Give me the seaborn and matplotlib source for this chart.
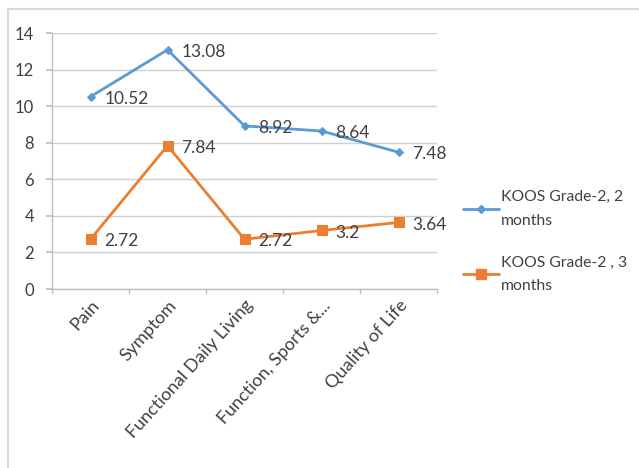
import matplotlib
matplotlib.use("Agg")
import matplotlib.pyplot as plt
from matplotlib.lines import Line2D
import seaborn as sns
import pandas as pd

categories = ["Pain", "Symptom", "Functional Daily Living", "Function, Sports &...", "Quality of Life"]
grade2_2m = [10.52, 13.08, 8.92, 8.64, 7.48]
grade2_3m = [2.72, 7.84, 2.72, 3.2, 3.64]
series_names = ["KOOS Grade-2, 2\nmonths", "KOOS Grade-2 , 3\nmonths"]
yticks = [0, 2, 4, 6, 8, 10, 12, 14]

colors = ["#5B9BD5", "#ED7D31"]
markers = ["D", "s"]
msizes = [4.5, 7]

sns.set_theme(style="white")
plt.rcParams["font.family"] = ["Lato", "DejaVu Sans"]

df = pd.DataFrame({
    "category": categories * 2,
    "pos": list(range(len(categories))) * 2,
    "value": grade2_2m + grade2_3m,
    "series": [series_names[0]] * 5 + [series_names[1]] * 5,
})

fig = plt.figure(figsize=(6.39, 4.68), dpi=100)
W, H = 639, 468
ax = fig.add_axes([52 / W, 1 - 289 / H, (437 - 52) / W, (289 - 33) / H])

for i, name in enumerate(series_names):
    sub = df[df["series"] == name]
    sns.lineplot(data=sub, x="pos", y="value", ax=ax, color=colors[i], marker=markers[i],
                 markersize=msizes[i], markeredgecolor=colors[i], linewidth=2, sort=False,
                 legend=False, zorder=3)
    for x, v in zip(sub["pos"], sub["value"]):
        ax.annotate(f"{v:g}", (x, v), xytext=(10, -1.5), textcoords="offset points",
                    ha="left", va="center", fontsize=12.5, color="#404040", zorder=4)

ax.set_xlim(-0.5, len(categories) - 0.5)
ax.set_ylim(0, 14)
ax.set_yticks(yticks)
ax.set_yticklabels([str(t) for t in yticks], fontsize=12, color="#404040")
ax.yaxis.grid(True, color="#d0d0d0", linewidth=1)
ax.xaxis.grid(False)
ax.set_xlabel("")
ax.set_ylabel("")

ax.set_xticks(range(len(categories)))
ax.set_xticklabels(categories, rotation=48, ha="right", rotation_mode="anchor",
                   fontsize=13, color="#404040")
ax.tick_params(axis="x", length=0, pad=6)
# boundary ticks between categories
for b in [i - 0.5 for i in range(len(categories) + 1)]:
    ax.plot([b, b], [0, -0.2], color="#bfbfbf", lw=1, clip_on=False, zorder=2)
ax.tick_params(axis="y", left=True, length=4, color="#bfbfbf", pad=9)

for side in ["top", "right"]:
    ax.spines[side].set_visible(False)
for side in ["left", "bottom"]:
    ax.spines[side].set_color("#bfbfbf")
    ax.spines[side].set_linewidth(1)

handles = [Line2D([0], [0], color=colors[i], marker=markers[i], markersize=msizes[i],
                  markeredgecolor=colors[i], lw=2) for i in range(2)]
leg = fig.legend(handles, series_names, loc="upper left", bbox_to_anchor=(449 / W, 1 - 176 / H),
                 frameon=False, fontsize=11.3, labelcolor="#404040", handlelength=2.3,
                 handletextpad=0.1, labelspacing=1.75)
for t in leg.get_texts():
    t.set_linespacing(1.9)

# chart area border
fig.add_artist(Line2D([8 / W, 1.0], [1 - 9 / H, 1 - 9 / H], color="#d9d9d9", lw=1.5,
                      transform=fig.transFigure))
fig.add_artist(Line2D([8 / W, 8 / W], [0, 1 - 9 / H], color="#d9d9d9", lw=1.5,
                      transform=fig.transFigure))

fig.savefig("out.png", dpi=100, facecolor="white")
